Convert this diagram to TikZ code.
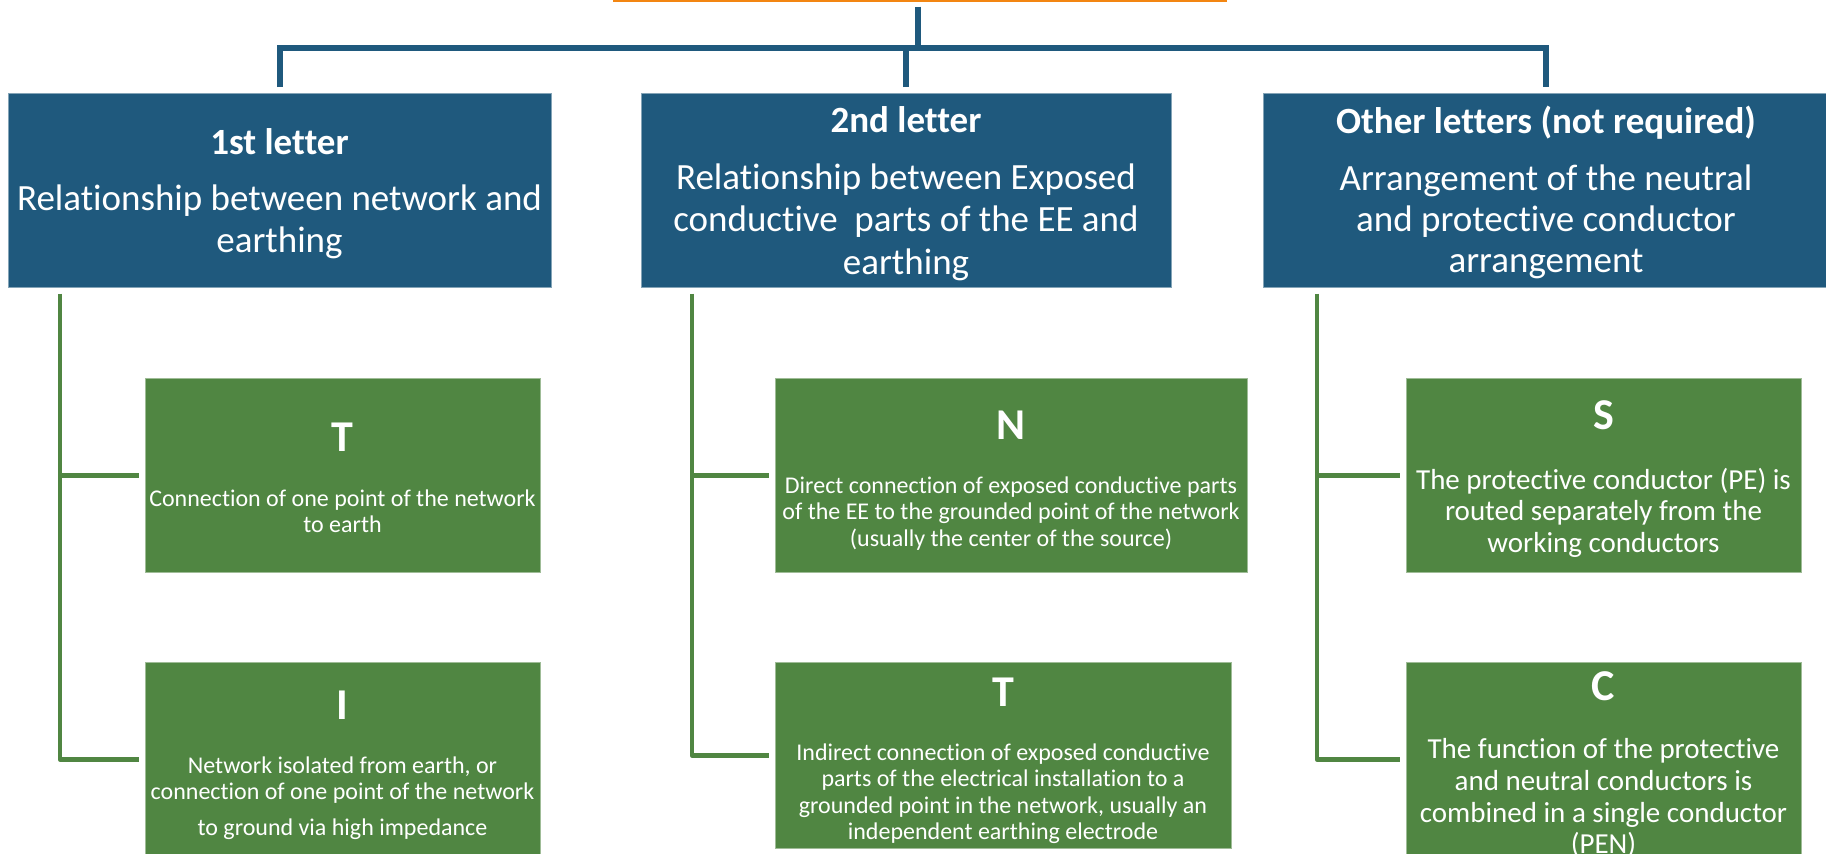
\documentclass[tikz,border=0pt]{standalone}
\usepackage{fontspec}
\setmainfont{Carlito}[Ligatures={NoCommon}]
\definecolor{hdrblue}{RGB}{31,89,125}
\definecolor{leafgreen}{RGB}{80,134,66}
\definecolor{rootorange}{RGB}{243,134,18}
% centred block of lines; the node's base is the first line's baseline
\newcommand{\mylines}[3]{{\fontsize{#1}{#2}\selectfont\begin{tabular}[t]{@{}c@{}}#3\end{tabular}}}
\begin{document}
\begin{tikzpicture}[x=1pt,y=-1pt,
  hdrbox/.style={fill=hdrblue, draw=hdrblue!55!white, line width=0.8pt, inner sep=0, anchor=north west},
  leafbox/.style={fill=leafgreen, draw=leafgreen!55!white, line width=0.8pt, inner sep=0, anchor=north west},
  rootbox/.style={fill=white, draw=rootorange, line width=3pt, inner sep=0, anchor=south west},
  txt/.style={anchor=base, inner sep=0, text=white},
  letter/.style={anchor=base, inner sep=0, text=white, font=\fontsize{44}{50}\selectfont\bfseries},
  blueline/.style={draw=hdrblue, line width=6pt},
  greenline/.style={draw=leafgreen, line width=4.5pt, line join=round}
]
\useasboundingbox (0,0) rectangle (1826,854);

% root box, mostly above the page
\node[rootbox, minimum width=611pt, minimum height=60pt] (root) at (613,1.5) {};

% header boxes
\node[hdrbox, minimum width=543pt, minimum height=194pt] (b1) at (8,93) {};
\node[hdrbox, minimum width=530pt, minimum height=194pt] (b2) at (641,93) {};
\node[hdrbox, minimum width=566pt, minimum height=194pt] (b3) at (1263,93) {};

% leaf boxes
\node[leafbox, minimum width=395pt, minimum height=194pt] (t1) at (145,378) {};
\node[leafbox, minimum width=395pt, minimum height=194pt] (i1) at (145,662) {};
\node[leafbox, minimum width=472pt, minimum height=194pt] (n2) at (775,378) {};
\node[leafbox, minimum width=456pt, minimum height=186pt] (t2) at (775,662) {};
\node[leafbox, minimum width=395pt, minimum height=194pt] (s3) at (1406,378) {};
\node[leafbox, minimum width=395pt, minimum height=194pt] (c3) at (1406,662) {};

% tree connectors
\coordinate (hub) at (918,48);
\draw[blueline] ([yshift=-5pt]root.south -| hub) -- (hub);
\draw[blueline] ([yshift=6pt]b1.north) -- (b1.north |- hub) -| ([yshift=6pt]b3.north);
\draw[blueline] ([yshift=6pt]b2.north) -- (b2.north |- hub);

\draw[greenline] ([xshift=52pt,yshift=-6pt]b1.south west) |- ([xshift=-6pt]t1.west);
\draw[greenline] ([xshift=52pt,yshift=-6pt]b1.south west) |- ([xshift=-6pt]i1.west);
\draw[greenline] ([xshift=51pt,yshift=-6pt]b2.south west) |- ([xshift=-6pt]n2.west);
\draw[greenline] ([xshift=51pt,yshift=-6pt]b2.south west) |- ([xshift=-6pt]t2.west);
\draw[greenline] ([xshift=54pt,yshift=-6pt]b3.south west) |- ([xshift=-6pt]s3.west);
\draw[greenline] ([xshift=54pt,yshift=-6pt]b3.south west) |- ([xshift=-6pt]c3.west);

% header texts
\node[txt, font=\fontsize{37}{42}\selectfont\bfseries] (b1title) at (279.5,154) {1st letter};
\node[txt] (b1body) at (279.5,210) {\mylines{37}{42}{Relationship between network and\\earthing}};
\node[txt, font=\fontsize{37}{42}\selectfont\bfseries] (b2title) at (906,132) {2nd letter};
\node[txt] (b2body) at (906,189) {\mylines{37}{42.5}{Relationship between Exposed\\conductive~ parts of the EE and\\earthing}};
\node[txt, font=\fontsize{37}{42}\selectfont\bfseries] (b3title) at (1546,133) {Other letters (not required)};
\node[txt] (b3body) at (1546,190) {\mylines{37}{41}{Arrangement of the neutral\\and protective conductor\\arrangement}};

% leaf texts
\node[letter] (t1letter) at (342.5,451) {T};
\node[txt] (t1body) at (342.5,506) {\mylines{24}{26.5}{Connection of one point of the network\\to earth}};
\node[letter] (i1letter) at (342.5,719.5) {I};
\node[txt] (i1body) at (342.5,773) {\mylines{24}{26.5}{Network isolated from earth, or\\connection of one point of the network\\[9.5pt]to ground via high impedance}};
\node[letter] (n2letter) at (1011,439.5) {N};
\node[txt] (n2body) at (1011,493) {\mylines{24}{26.5}{Direct connection of exposed conductive parts\\of the EE to the grounded point of the network\\(usually the center of the source)}};
\node[letter] (t2letter) at (1003,706.5) {T};
\node[txt] (t2body) at (1003,760) {\mylines{24}{26.5}{Indirect connection of exposed conductive\\parts of the electrical installation to a\\grounded point in the network, usually an\\independent earthing electrode}};
\node[letter] (s3letter) at (1603.5,429.5) {S};
\node[txt] (s3body) at (1603.5,489) {\mylines{29}{31.75}{The protective conductor (PE) is\\routed separately from the\\working conductors}};
\node[letter] (c3letter) at (1603.5,700.5) {C};
\node[txt] (c3body) at (1603.5,758.5) {\mylines{29}{31.75}{The function of the protective\\and neutral conductors is\\combined in a single conductor\\(PEN)}};
\end{tikzpicture}
\end{document}
